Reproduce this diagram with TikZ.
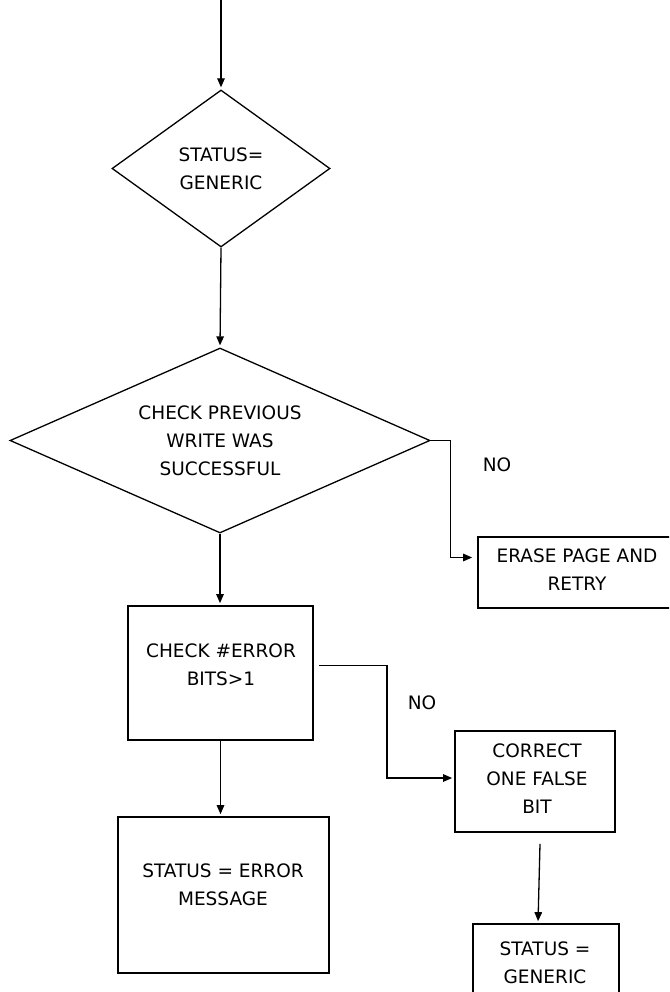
\documentclass[tikz,border=0pt]{standalone}
\usepackage{fontspec}
\setmainfont{DejaVu Sans}
\usetikzlibrary{shapes.geometric,arrows.meta,calc}

\tikzset{
  decision/.style={draw, diamond, line width=1.3pt, inner sep=0pt, align=center,
                   font=\fontsize{18.5}{28}\selectfont},
  stepbox/.style={draw, rectangle, line width=1.7pt, inner sep=0pt},
  lbl/.style={align=center, inner sep=0pt, font=\fontsize{18.5}{28}\selectfont},
  flow/.style={line width=1.3pt, -{Triangle[length=9pt,width=7.5pt]}, shorten >=2pt}
}

\begin{document}
\begin{tikzpicture}[x=1pt,y=-1pt]
  \path[use as bounding box] (0,0) rectangle (669,992);
  \clip (0,0) rectangle (669,992);

  % decisions
  \node[decision, aspect=1.39, minimum width=218pt, minimum height=157pt] (d1) at (221,168.5) {STATUS=\\GENERIC};
  \node[decision, aspect=2.27, minimum width=420pt, minimum height=185pt] (d2) at (220,440.5) {CHECK PREVIOUS\\WRITE WAS\\SUCCESSFUL};

  % process boxes
  \node[stepbox, minimum width=198pt, minimum height=71pt]  (erase) at (577,572.5) {};
  \node[lbl] (terase) at (577,570) {ERASE PAGE AND\\RETRY};

  \node[stepbox, minimum width=185pt, minimum height=134pt] (b3) at (220.5,673) {};
  \node[lbl] (t3) at (221,665) {CHECK \#ERROR\\BITS>1};

  \node[stepbox, minimum width=160pt, minimum height=101pt] (b4) at (535,781.5) {};
  \node[lbl] (t4) at (537,779) {CORRECT\\ONE FALSE\\BIT};

  \node[stepbox, minimum width=211pt, minimum height=156pt] (b6) at (223.5,895) {};
  \node[lbl] (t6) at (223,885) {STATUS = ERROR\\MESSAGE};

  \node[stepbox, minimum width=146pt, minimum height=90pt]  (b5) at (546,969) {};
  \node[lbl] (t5) at (545,962.5) {STATUS =\\GENERIC};

  % branch labels
  \node[lbl] (no1) at (497,465) {NO};
  \node[lbl] (no2) at (422,703) {NO};

  % connectors
  \coordinate (start) at (221,0);
  \draw[flow] (start) -- (d1.north);
  \draw[flow] (d1.south) -- (d2.north);
  \draw[flow, shorten >=5pt] (d2.east) -- ++(20,0) |- ([shift={(0,-15)}]erase.west);
  \draw[flow] (d2.south) -- (d2.south |- b3.north);
  \draw[flow] ([shift={(5,-7.5)}]b3.east) -- ++(68,0) |- ([shift={(0,-3.5)}]b4.west);
  \draw[flow] (b3.south) -- (b3.south |- b6.north);
  \draw[flow] ([shift={(5,11)}]b4.south) -- ([shift={(-8,0)}]b5.north);
\end{tikzpicture}
\end{document}
